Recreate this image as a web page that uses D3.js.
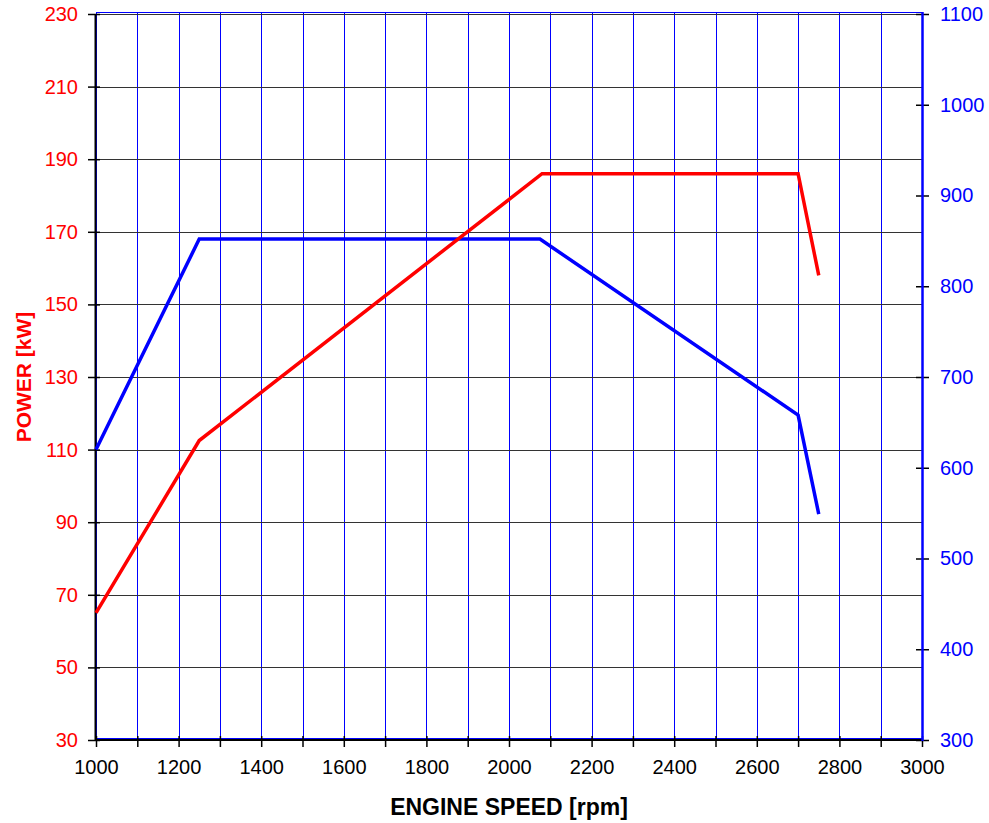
<!DOCTYPE html>
<html>
<head>
<meta charset="utf-8">
<script src="https://cdn.jsdelivr.net/npm/d3@7"></script>
<style>
  body { margin: 0; background: #fff; }
  text { font-family: "Liberation Sans", Arial, sans-serif; }
</style>
</head>
<body>
<div id="chart"></div>
<script>
// engine power / torque curve

var width = 989,
    height = 823;

// data
var powerRpm = [1000, 1250, 2080, 2700, 2750];
var powerKw = [65, 112.5, 186, 186, 158];
var torqueRpm = [1000, 1250, 2075, 2700, 2750];
var torqueNm = [620, 852, 852, 658, 549];

var rpmTicks = d3.range(1000, 3001, 100);
var rpmLabels = d3.range(1000, 3001, 200);
var kwTicks = d3.range(30, 231, 20);
var nmTicks = d3.range(300, 1101, 100);

// plot box (window.top is reserved, so prefixed names)
var pLeft = 96, pRight = 922, pTop = 14, pBottom = 740;

var x = d3.scaleLinear().domain([1000, 3000]).range([pLeft, pRight]);
var yPow = d3.scaleLinear().domain([30, 230]).range([pBottom, pTop]);
var yTor = d3.scaleLinear().domain([300, 1100]).range([pBottom, pTop]);

var svg = d3.select("#chart").append("svg")
    .attr("width", width)
    .attr("height", height);

// vertical grid (blue)
svg.append("g").selectAll("line")
  .data(rpmTicks)
  .enter().append("line")
  .attr("x1", function(d) { return Math.round(x(d)) + 0.5; })
  .attr("x2", function(d) { return Math.round(x(d)) + 0.5; })
  .attr("y1", pTop - 2)
  .attr("y2", pBottom)
  .style("stroke", "#0000ff")
  .style("stroke-width", 1);

// horizontal grid (dark grey)
svg.append("g").selectAll("line")
  .data(kwTicks)
  .enter().append("line")
  .attr("x1", pLeft)
  .attr("x2", pRight)
  .attr("y1", function(d) { return Math.round(yPow(d)) + 0.5; })
  .attr("y2", function(d) { return Math.round(yPow(d)) + 0.5; })
  .style("stroke", "#333")
  .style("stroke-width", 1);

// blue plot frame
svg.append("rect")
  .attr("x", pLeft + 0.5)
  .attr("y", pTop - 1.5)
  .attr("width", pRight - pLeft)
  .attr("height", pBottom - pTop)
  .attr("fill", "none")
  .style("stroke", "#0000ff")
  .style("stroke-width", 1);

// left axis (power)
var axL = svg.append("g")
  .attr("transform", "translate(" + pLeft + ",0)")
  .call(d3.axisLeft(yPow).tickValues(kwTicks).tickSize(8).tickPadding(10).tickFormat(d3.format("d")));
axL.select(".domain").remove();
axL.selectAll(".tick line").attr("x1", 4).style("stroke", "#000").style("stroke-width", 1.5);
axL.selectAll("text").style("font-size", "20px").style("fill", "#ff0000");
svg.append("line")
  .attr("x1", pLeft - 0.5).attr("x2", pLeft - 0.5)
  .attr("y1", pTop).attr("y2", pBottom + 1)
  .style("stroke", "#000").style("stroke-width", 2);

// bottom axis (rpm)
var axB = svg.append("g")
  .attr("transform", "translate(0," + pBottom + ")")
  .call(d3.axisBottom(x).tickValues(rpmTicks).tickSize(7).tickPadding(13)
    .tickFormat(function(d) { return rpmLabels.indexOf(d) >= 0 ? d : ""; }));
axB.select(".domain").remove();
axB.selectAll(".tick line").attr("y1", -4).style("stroke", "#000").style("stroke-width", 1.5);
axB.selectAll("text").style("font-size", "20px").style("fill", "#000");
svg.append("line")
  .attr("x1", pLeft - 1).attr("x2", pRight + 1)
  .attr("y1", pBottom).attr("y2", pBottom)
  .style("stroke", "#000").style("stroke-width", 2);

// right axis (torque)
var axR = svg.append("g")
  .attr("transform", "translate(" + pRight + ",0)")
  .call(d3.axisRight(yTor).tickValues(nmTicks).tickSize(7).tickPadding(11).tickFormat(d3.format("d")));
axR.select(".domain").remove();
axR.selectAll(".tick line").attr("x1", -6).style("stroke", "#000").style("stroke-width", 1.5);
axR.selectAll("text").style("font-size", "20px").style("fill", "#0000ff");
svg.append("line")
  .attr("x1", pRight + 0.5).attr("x2", pRight + 0.5)
  .attr("y1", pTop - 2).attr("y2", pBottom + 1)
  .style("stroke", "#0000ff").style("stroke-width", 2.5);

// curves
var powerData = powerRpm.map(function(r, i) { return [r, powerKw[i]]; });
var torqueData = torqueRpm.map(function(r, i) { return [r, torqueNm[i]]; });

svg.append("path")
  .datum(torqueData)
  .attr("d", d3.line()
    .x(function(d) { return x(d[0]); })
    .y(function(d) { return yTor(d[1]); }))
  .attr("fill", "none")
  .style("stroke", "#0000ff")
  .style("stroke-width", 3.5);

svg.append("path")
  .datum(powerData)
  .attr("d", d3.line()
    .x(function(d) { return x(d[0]); })
    .y(function(d) { return yPow(d[1]); }))
  .attr("fill", "none")
  .style("stroke", "#ff0000")
  .style("stroke-width", 3.5);

// axis titles
svg.append("text")
  .attr("x", (pLeft + pRight) / 2)
  .attr("y", 815)
  .attr("text-anchor", "middle")
  .style("font-size", "23px")
  .style("font-weight", "bold")
  .style("fill", "#000")
  .text("ENGINE SPEED [rpm]");

svg.append("text")
  .attr("transform", "translate(31,377) rotate(-90)")
  .attr("text-anchor", "middle")
  .style("font-size", "21px")
  .style("font-weight", "bold")
  .style("fill", "#ff0000")
  .text("POWER [kW]");
</script>
</body>
</html>
